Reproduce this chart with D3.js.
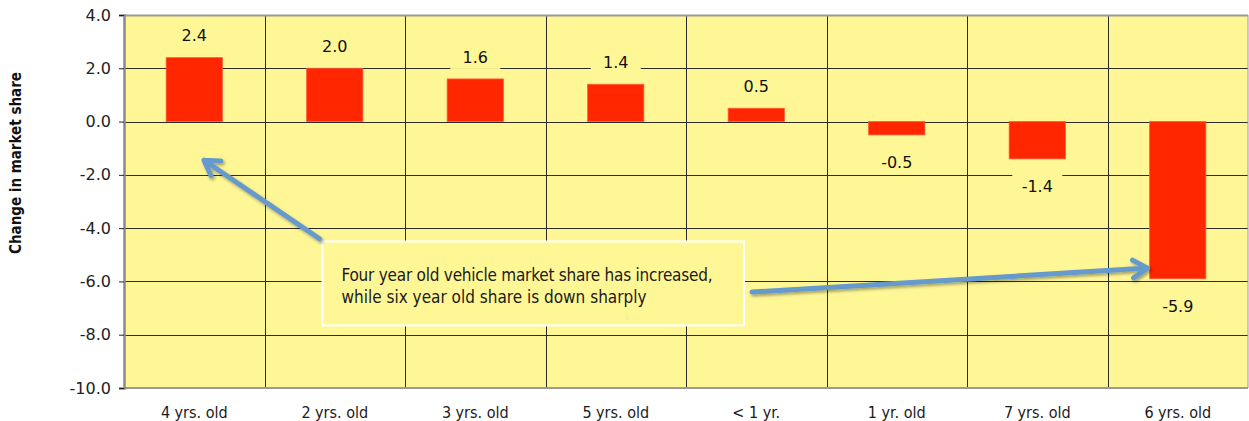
<!DOCTYPE html>
<html>
<head>
<meta charset="utf-8">
<script src="https://cdn.jsdelivr.net/npm/d3@7"></script>
<style>
  body { margin: 0; background: #fff; }
  svg { display: block; }
</style>
</head>
<body>
<div id="chart"></div>
<script>
var svgWidth = 1249;
var svgHeight = 421;

var margin = { top: 15, right: 1, bottom: 33, left: 124 };
var width = svgWidth - margin.left - margin.right;
var height = svgHeight - margin.top - margin.bottom;

// data
var categories = ["4 yrs. old", "2 yrs. old", "3 yrs. old", "5 yrs. old", "< 1 yr.", "1 yr. old", "7 yrs. old", "6 yrs. old"];
var shareChange = [2.4, 2.0, 1.6, 1.4, 0.5, -0.5, -1.4, -5.9];
var yTicks = [4, 2, 0, -2, -4, -6, -8, -10];
var noteLines = ["Four year old vehicle market share has increased,", "while six year old share is down sharply"];

var svg = d3.select("#chart")
  .append("svg")
  .attr("width", svgWidth)
  .attr("height", svgHeight);

var defs = svg.append("defs");
var shadow = defs.append("filter").attr("id", "shadow")
  .attr("x", "-20%").attr("y", "-50%").attr("width", "140%").attr("height", "200%");
shadow.append("feDropShadow")
  .attr("dx", 1.5).attr("dy", 2).attr("stdDeviation", 1.5)
  .attr("flood-color", "#000").attr("flood-opacity", 0.35);

var chartGroup = svg.append("g")
  .attr("transform", `translate(${margin.left}, ${margin.top})`);

var xScale = d3.scaleBand()
  .domain(categories)
  .range([0, width])
  .paddingInner(0)
  .paddingOuter(0);

var yScale = d3.scaleLinear()
  .domain([-10, 4])
  .range([height, 0]);

// plot background
chartGroup.append("rect")
  .attr("width", width)
  .attr("height", height)
  .attr("fill", "#fff796");

// horizontal grid
chartGroup.selectAll(".hgrid")
  .data(yTicks)
  .enter()
  .append("line")
  .attr("x1", 0).attr("x2", width)
  .attr("y1", d => Math.round(yScale(d)) + 0.5)
  .attr("y2", d => Math.round(yScale(d)) + 0.5)
  .attr("stroke", "#2b2b2b")
  .attr("stroke-width", 1);

// vertical grid between categories
chartGroup.selectAll(".vgrid")
  .data(categories.slice(1))
  .enter()
  .append("line")
  .attr("x1", d => Math.round(xScale(d)) + 0.5)
  .attr("x2", d => Math.round(xScale(d)) + 0.5)
  .attr("y1", 0).attr("y2", height)
  .attr("stroke", "#2b2b2b")
  .attr("stroke-width", 1);

// bars
var barW = xScale.bandwidth() * 0.4;
chartGroup.selectAll(".bar")
  .data(shareChange)
  .enter()
  .append("rect")
  .attr("x", (d, i) => xScale(categories[i]) + (xScale.bandwidth() - barW) / 2)
  .attr("y", d => yScale(Math.max(0, d)))
  .attr("width", barW)
  .attr("height", d => Math.abs(yScale(d) - yScale(0)))
  .attr("fill", "#ff2600")
  .attr("stroke", "#ff5a3a")
  .attr("stroke-width", 0.8);

// value labels with background boxes
var labelG = chartGroup.selectAll(".vlabel")
  .data(shareChange)
  .enter()
  .append("g")
  .attr("transform", (d, i) => {
    var cx = xScale(categories[i]) + xScale.bandwidth() / 2;
    var cy = d >= 0 ? yScale(d) - 22 : yScale(d) + 27;
    return `translate(${cx}, ${cy})`;
  });

labelG.append("rect")
  .attr("x", -25).attr("y", -12)
  .attr("width", 50).attr("height", 24)
  .attr("fill", "#fff796");

labelG.append("text")
  .attr("text-anchor", "middle")
  .attr("dy", "0.36em")
  .attr("font-family", "DejaVu Sans, Verdana, sans-serif")
  .attr("font-size", "16px")
  .attr("fill", "#111")
  .text(d => d.toFixed(1));

// axis frame
chartGroup.append("line")
  .attr("x1", 0).attr("x2", width).attr("y1", 0.5).attr("y2", 0.5)
  .attr("stroke", "#9a9a9a").attr("stroke-width", 2);
chartGroup.append("line")
  .attr("x1", 0).attr("x2", width).attr("y1", height).attr("y2", height)
  .attr("stroke", "#9a9a9a").attr("stroke-width", 2);
chartGroup.append("line")
  .attr("x1", width).attr("x2", width).attr("y1", 0).attr("y2", height)
  .attr("stroke", "#9a9a9a").attr("stroke-width", 1);

// y axis
var leftAxis = d3.axisLeft(yScale)
  .tickValues(yTicks)
  .tickSize(5)
  .tickPadding(8)
  .tickFormat(d => d.toFixed(1));

var yAxis = chartGroup.append("g").call(leftAxis);
yAxis.select(".domain").attr("stroke", "#8a8a8a").attr("stroke-width", 2.5);
yAxis.selectAll(".tick line").attr("stroke", "#222");
yAxis.selectAll("text")
  .attr("font-family", "DejaVu Sans, Verdana, sans-serif")
  .attr("font-size", "16px")
  .attr("fill", "#222");

// x axis labels
chartGroup.selectAll(".xlabel")
  .data(categories)
  .enter()
  .append("text")
  .attr("x", d => xScale(d) + xScale.bandwidth() / 2)
  .attr("y", height + 30)
  .attr("text-anchor", "middle")
  .attr("font-family", "Liberation Sans Narrow, DejaVu Sans Condensed, sans-serif")
  .attr("font-size", "16px")
  .attr("fill", "#1a1a1a")
  .text(d => d);

// y axis title
svg.append("text")
  .attr("transform", `translate(21, 163) rotate(-90)`)
  .attr("text-anchor", "middle")
  .attr("font-family", "Liberation Sans Narrow, DejaVu Sans Condensed, sans-serif")
  .attr("font-weight", "bold")
  .attr("font-size", "15px")
  .attr("fill", "#111")
  .text("Change in market share");

// annotation box
var noteX0 = xScale(categories[1]) + 58, noteX1 = xScale(categories[4]) + 58;
var noteY0 = yScale(-4.5), noteY1 = yScale(-7.65);
chartGroup.append("rect")
  .attr("x", noteX0).attr("y", noteY0)
  .attr("width", noteX1 - noteX0).attr("height", noteY1 - noteY0)
  .attr("fill", "#fff796")
  .attr("stroke", "#fff")
  .attr("stroke-width", 2);

chartGroup.selectAll(".note")
  .data(noteLines)
  .enter()
  .append("text")
  .attr("x", noteX0 + 19)
  .attr("y", (d, i) => noteY0 + 40 + i * 22)
  .attr("font-family", "Liberation Sans Narrow, DejaVu Sans Condensed, sans-serif")
  .attr("font-size", "17px")
  .attr("textLength", (d, i) => i === 0 ? 371 : null)
  .attr("fill", "#1a1a1a")
  .text(d => d);

// arrows
function drawArrow(x1, y1, x2, y2) {
  var ang = Math.atan2(y2 - y1, x2 - x1);
  var len = 17, spread = 0.55;
  var hx1 = x2 - len * Math.cos(ang - spread), hy1 = y2 - len * Math.sin(ang - spread);
  var hx2 = x2 - len * Math.cos(ang + spread), hy2 = y2 - len * Math.sin(ang + spread);
  var path = d3.path();
  path.moveTo(x1, y1);
  path.lineTo(x2, y2);
  path.moveTo(hx1, hy1);
  path.lineTo(x2, y2);
  path.lineTo(hx2, hy2);
  chartGroup.append("path")
    .attr("d", path.toString())
    .attr("fill", "none")
    .attr("stroke", "#6699cc")
    .attr("stroke-width", 5)
    .attr("stroke-linecap", "round")
    .attr("stroke-linejoin", "round")
    .attr("filter", "url(#shadow)");
}

drawArrow(xScale(categories[1]) + 55, yScale(-4.4), xScale(categories[0]) + 80, yScale(-1.45));
drawArrow(xScale(categories[4]) + 66, yScale(-6.4), xScale(categories[7]) + 40, yScale(-5.5));
</script>
</body>
</html>
